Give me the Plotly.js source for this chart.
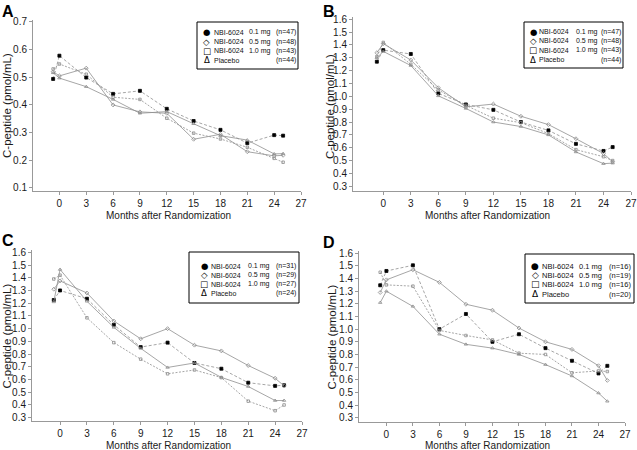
<!DOCTYPE html>
<html>
<head>
<meta charset="utf-8">
<script src="https://cdn.plot.ly/plotly-3.0.1.min.js"></script>
<style>html,body{margin:0;padding:0;background:#fff;}#chart{width:637px;height:450px;}</style>
</head>
<body>
<div id="chart"></div>
<script>
// ---------- data ----------
const months = [-0.7, 0, 3, 6, 9, 12, 15, 18, 21, 24, 25];
const xTickVals = [0, 3, 6, 9, 12, 15, 18, 21, 24, 27];
const yTicksA = [0.1, 0.2, 0.3, 0.4, 0.5, 0.6, 0.7];
const yTicksBCD = [0.3, 0.4, 0.5, 0.6, 0.7, 0.8, 0.9, 1.0, 1.1, 1.2, 1.3, 1.4, 1.5, 1.6];
const doseLabels = ['0.1 mg', '0.5 mg', '1.0 mg'];
const groupNames = ['NBI-6024 0.1 mg', 'NBI-6024 0.5 mg', 'NBI-6024 1.0 mg', 'Placebo'];
const panelLetters = ['A', 'B', 'C', 'D'];

// Panel A
const a_01 = [0.494, 0.578, 0.499, 0.440, 0.451, 0.386, 0.342, 0.310, 0.262, 0.291, 0.289];
const a_05 = [0.520, 0.505, 0.533, 0.400, 0.375, 0.370, 0.276, 0.294, 0.231, 0.216, 0.218];
const a_10 = [0.530, 0.548, 0.511, 0.428, 0.420, 0.352, 0.298, 0.277, 0.247, 0.207, 0.193];
const a_pl = [0.516, 0.497, 0.466, 0.420, 0.370, 0.376, 0.332, 0.289, 0.273, 0.223, 0.224];
const nA = ['(n=47)', '(n=48)', '(n=43)', '(n=44)'];

// Panel B
const b_01 = [1.27, 1.36, 1.33, 1.023, 0.937, 0.895, 0.800, 0.735, 0.630, 0.575, 0.605];
const b_05 = [1.34, 1.41, 1.283, 1.067, 0.918, 0.940, 0.845, 0.780, 0.670, 0.555, 0.490];
const b_10 = [1.31, 1.42, 1.250, 1.050, 0.930, 0.830, 0.795, 0.710, 0.585, 0.530, 0.500];
const b_pl = [1.30, 1.35, 1.240, 1.004, 0.906, 0.800, 0.765, 0.700, 0.567, 0.476, 0.480];
const nB = ['(n=47)', '(n=48)', '(n=43)', '(n=44)'];

// Panel C
const c_01 = [1.225, 1.300, 1.235, 1.030, 0.855, 0.890, 0.730, 0.685, 0.575, 0.550, 0.555];
const c_05 = [1.310, 1.375, 1.280, 1.060, 0.920, 1.000, 0.870, 0.825, 0.710, 0.610, 0.550];
const c_10 = [1.390, 1.420, 1.085, 0.890, 0.760, 0.645, 0.675, 0.615, 0.430, 0.355, 0.400];
const c_pl = [1.210, 1.465, 1.215, 1.010, 0.845, 0.695, 0.730, 0.617, 0.545, 0.435, 0.435];
const nC = ['(n=31)', '(n=29)', '(n=27)', '(n=24)'];

// Panel D
const d_01 = [1.347, 1.460, 1.505, 1.000, 1.120, 0.900, 0.960, 0.850, 0.750, 0.650, 0.710];
const d_05 = [1.290, 1.390, 1.470, 1.370, 1.197, 1.150, 1.009, 0.900, 0.840, 0.711, 0.595];
const d_10 = [1.450, 1.350, 1.340, 0.990, 0.950, 0.915, 0.810, 0.800, 0.655, 0.670, 0.665];
const d_pl = [1.210, 1.300, 1.180, 0.960, 0.880, 0.850, 0.800, 0.720, 0.630, 0.495, 0.430];
const nD = ['(n=16)', '(n=19)', '(n=16)', '(n=20)'];

// ---------- layout helpers ----------
const W = 637, H = 450;
const px = v => v / W;
const py = v => 1 - v / H;

const panelSeries = [
  [a_01, a_05, a_10, a_pl],
  [b_01, b_05, b_10, b_pl],
  [c_01, c_05, c_10, c_pl],
  [d_01, d_05, d_10, d_pl]
];
const panelN = [nA, nB, nC, nD];

// geometry (pixels)
const geo = [
  {x0: 33, x1: 301, y0: 20, y1: 191, xr: [-2.95, 27], yr: [0.089, 0.707], yt: yTicksA, xtl: 3,
   letter: [0, 1], xt: [168, 215], yTitle: [7, 106],
   leg: {bx0: 197, by0: 22, bx1: 298, by1: 69, sym: 206.5, nbi: 212.5, dose: 248, nr: 296.5, rows: [32.3, 41.7, 51, 60.3], fs: 7}},
  {x0: 353, x1: 631, y0: 17, y1: 191, xr: [-3.3, 27], yr: [0.263, 1.618], yt: yTicksBCD, xtl: 3,
   letter: [321, 1], xt: [487, 215], yTitle: [330, 106],
   leg: {bx0: 524, by0: 22, bx1: 623, by1: 68, sym: 533, nbi: 538, dose: 575, nr: 621.5, rows: [31.7, 40.7, 50, 59.7], fs: 7}},
  {x0: 32, x1: 302, y0: 250, y1: 421, xr: [-3.13, 27], yr: [0.274, 1.618], yt: yTicksBCD, xtl: 3,
   letter: [0, 230], xt: [168, 445], yTitle: [6.5, 336],
   leg: {bx0: 189, by0: 252, bx1: 299, by1: 303, sym: 204, nbi: 209.5, dose: 246.5, nr: 296.5, rows: [266, 275, 284.3, 293.3], fs: 7}},
  {x0: 359, x1: 625, y0: 251, y1: 422, xr: [-3.1, 27], yr: [0.266, 1.618], yt: yTicksBCD, xtl: 3,
   letter: [321, 232], xt: [487, 445], yTitle: [331.5, 337],
   leg: {bx0: 525, by0: 254, bx1: 634, by1: 303, sym: 535, nbi: 540.5, dose: 577.5, nr: 632, rows: [266, 275, 284.3, 294], fs: 7.5}}
];

const lineStyles = [
  {dash: '3px,2px', symbol: 'square', mcolor: '#000', msize: 3},
  {dash: 'solid', symbol: 'diamond-open', mcolor: '#8a8a8a', msize: 3},
  {dash: '2px,1.5px', symbol: 'square-open', mcolor: '#8a8a8a', msize: 2.5},
  {dash: 'solid', symbol: 'triangle-up-open', mcolor: '#8a8a8a', msize: 3}
];
const legendSymbols = ['\u25CF', '\u25C7', '\u25A1', '\u0394'];

const traces = [];
const layout = {
  width: W, height: H,
  margin: {l: 0, r: 0, t: 0, b: 0},
  paper_bgcolor: '#fff', plot_bgcolor: '#fff',
  showlegend: false,
  font: {family: 'Liberation Sans, Arial, sans-serif', color: '#1a1a1a'},
  annotations: [], shapes: []
};

geo.forEach((g, i) => {
  const sfx = i === 0 ? '' : String(i + 1);
  const xa = 'xaxis' + sfx, ya = 'yaxis' + sfx;
  layout[xa] = {
    domain: [px(g.x0), px(g.x1)], anchor: 'y' + sfx, range: g.xr,
    tickvals: xTickVals, ticks: 'outside', ticklen: g.xtl, tickcolor: '#999', tickwidth: 1,
    showline: true, linecolor: '#999', linewidth: 1, showgrid: false, zeroline: false,
    tickfont: {size: 10, color: '#1a1a1a'}, fixedrange: true
  };
  layout[ya] = {
    domain: [py(g.y1), py(g.y0)], anchor: 'x' + sfx, range: g.yr,
    tickvals: g.yt, tickformat: '.1f', ticks: 'outside', ticklen: 3, tickcolor: '#999', tickwidth: 1,
    showline: true, linecolor: '#999', linewidth: 1, showgrid: false, zeroline: false,
    tickfont: {size: 10, color: '#1a1a1a'}, fixedrange: true
  };
  panelSeries[i].forEach((vals, k) => {
    const s = lineStyles[k];
    traces.push({
      x: months, y: vals, type: 'scatter', mode: 'lines+markers', name: groupNames[k],
      xaxis: 'x' + sfx, yaxis: 'y' + sfx, cliponaxis: false,
      line: {color: '#8f8f8f', width: 0.8, dash: s.dash},
      marker: {symbol: s.symbol, size: s.msize, color: s.mcolor, line: {color: s.mcolor, width: 0.8}}
    });
  });
  // panel letter
  layout.annotations.push({xref: 'paper', yref: 'paper', x: px(g.letter[0]), y: py(g.letter[1]),
    xanchor: 'left', yanchor: 'top', showarrow: false, text: '<b>' + panelLetters[i] + '</b>',
    font: {size: 16, color: '#000', family: 'Liberation Sans, Arial, sans-serif'}});
  // axis titles
  layout.annotations.push({xref: 'paper', yref: 'paper', x: px(g.xt[0]), y: py(g.xt[1]),
    xanchor: 'center', yanchor: 'middle', showarrow: false, text: 'Months after Randomization',
    font: {size: 10, color: '#1a1a1a'}, borderpad: 0});
  layout.annotations.push({xref: 'paper', yref: 'paper', x: px(g.yTitle[0]), y: py(g.yTitle[1]),
    xanchor: 'center', yanchor: 'middle', showarrow: false, textangle: -90, text: 'C-peptide (pmol/mL)',
    font: {size: 11.5, color: '#1a1a1a'}, borderpad: 0});
  // legend box
  const L = g.leg;
  layout.shapes.push({type: 'rect', xref: 'paper', yref: 'paper', x0: px(L.bx0), x1: px(L.bx1),
    y0: py(L.by1), y1: py(L.by0), line: {color: '#000', width: 1}, fillcolor: '#fff'});
  for (let k = 0; k < 4; k++) {
    const yy = py(L.rows[k]);
    layout.annotations.push({xref: 'paper', yref: 'paper', x: px(L.sym), y: yy, xanchor: 'center', yanchor: 'middle',
      showarrow: false, text: legendSymbols[k], font: {size: L.fs + 1.5, color: '#000', family: 'DejaVu Sans, sans-serif'}, borderpad: 0});
    if (k < 3) {
      layout.annotations.push({xref: 'paper', yref: 'paper', x: px(L.nbi), y: yy, xanchor: 'left', yanchor: 'middle',
        showarrow: false, text: 'NBI-6024', font: {size: L.fs, color: '#111'}, borderpad: 0});
      layout.annotations.push({xref: 'paper', yref: 'paper', x: px(L.dose), y: yy, xanchor: 'left', yanchor: 'middle',
        showarrow: false, text: doseLabels[k], font: {size: L.fs, color: '#111'}, borderpad: 0});
    } else {
      layout.annotations.push({xref: 'paper', yref: 'paper', x: px(L.nbi), y: yy, xanchor: 'left', yanchor: 'middle',
        showarrow: false, text: 'Placebo', font: {size: L.fs, color: '#111'}, borderpad: 0});
    }
    layout.annotations.push({xref: 'paper', yref: 'paper', x: px(L.nr), y: yy, xanchor: 'right', yanchor: 'middle',
      showarrow: false, text: panelN[i][k], font: {size: L.fs, color: '#111'}, borderpad: 0});
  }
});

Plotly.newPlot('chart', traces, layout, {displayModeBar: false, staticPlot: true});
</script>
</body>
</html>
